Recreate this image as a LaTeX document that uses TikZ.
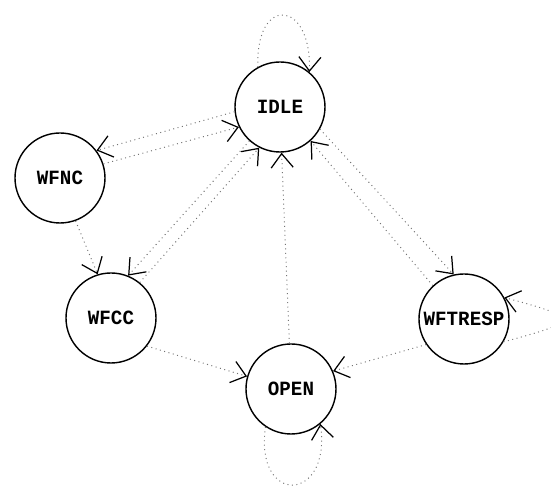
\documentclass[tikz,border=0pt]{standalone}
\usepackage{fontspec}
\newfontfamily\statefont[FakeStretch=0.95]{Liberation Mono}
\usetikzlibrary{automata, positioning, arrows.meta}

\begin{document}
\begin{tikzpicture}[node distance=3.5cm,
    every state/.style={draw, circle, minimum size=1.8cm, inner sep=0pt, line width=0.8pt,
        font=\statefont\bfseries\fontsize{11.5}{13}\selectfont},
    trans/.style={draw=black!55, dotted, line width=0.55pt,
        -{Straight Barb[length=2.8mm, width=4.4mm, line width=0.7pt, color=black]}}]
    %
    \clip (-5.6,2.14) rectangle (5.42,-7.6);
    %
    \node [state] (idle) {IDLE};
    \node [state, below of=idle, node distance=5.64cm, xshift=0.22cm] (open) {OPEN};
    \node [state, left of=open, node distance=3.6cm, yshift=1.42cm] (wfcc) {WFCC};
    \node [state, right of=open, node distance=3.46cm, yshift=1.4cm] (wftresp) {WFTRESP};
    \node [state, left of=idle, node distance=4.4cm, yshift=-1.42cm] (wfnc) {WFNC};
    %
    \path (idle.119) edge[trans, out=92, in=88, min distance=1.45cm] (idle.50);
    \path (idle.186) edge[trans] (wfnc.37);
    \path (wfnc.18) edge[trans] (idle.206);
    \path (idle.228) edge[trans] (wfcc.68);
    \path (wfcc.51) edge[trans] (idle.243);
    \path (wfnc.290) edge[trans] (wfcc.107);
    \path (open.92) edge[trans] (idle.272);
    \path (idle.331) edge[trans] (wftresp.103);
    \path (wftresp.133) edge[trans] (idle.312);
    \path (wftresp.-30) edge[trans, out=15, in=-15, min distance=1.6cm] (wftresp.28);
    \path (wftresp.214) edge[trans] (open.23);
    \path (wfcc.322) edge[trans] (open.164);
    \path (open.236) edge[trans, out=262, in=278, min distance=1.6cm] (open.310);
\end{tikzpicture}
\end{document}
